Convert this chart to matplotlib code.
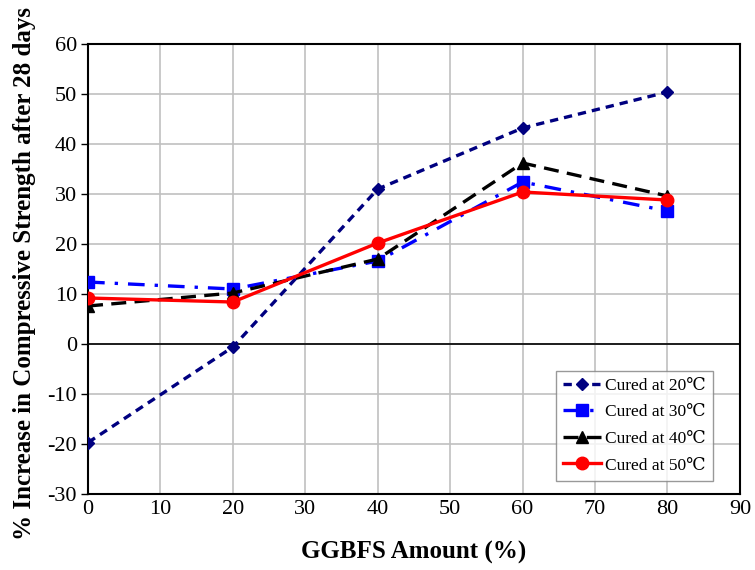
import matplotlib
matplotlib.use("Agg")
import matplotlib.pyplot as plt

plt.rcParams["font.family"] = ["Liberation Serif", "DejaVu Serif"]
plt.rcParams["axes.unicode_minus"] = False

# ---------- DATA ----------
ggbfs = [0, 20, 40, 60, 80]
cured_20 = [-19.7, -0.6, 31.0, 43.2, 50.4]
cured_30 = [12.4, 11.0, 16.6, 32.4, 26.6]
cured_40 = [7.6, 10.2, 17.0, 36.2, 29.6]
cured_50 = [9.2, 8.4, 20.2, 30.4, 28.8]

labels = ["Cured at 20\u2103", "Cured at 30\u2103", "Cured at 40\u2103", "Cured at 50\u2103"]
x_ticks = list(range(0, 91, 10))
y_ticks = list(range(-30, 61, 10))

fig = plt.figure(figsize=(7.55, 5.7), dpi=100)
ax = fig.add_axes([0.1166, 0.1333, 0.8634, 0.7895])

ax.plot(ggbfs, cured_20, color="#000080", linestyle=(0, (2.5, 1.8)), linewidth=2.4,
        marker="D", markersize=6, label=labels[0], zorder=3)
ax.plot(ggbfs, cured_30, color="#0000FF", linestyle=(0, (5, 3, 1, 3)), linewidth=2.4,
        marker="s", markersize=9, label=labels[1], zorder=3)
ax.plot(ggbfs, cured_40, color="black", linestyle=(0, (4.5, 2.5)), linewidth=2.4,
        marker="^", markersize=9, label=labels[2], zorder=3)
ax.plot(ggbfs, cured_50, color="#FF0000", linestyle="-", linewidth=2.4,
        marker="o", markersize=9, label=labels[3], zorder=4)

ax.axhline(0, color="black", linewidth=1.2, zorder=2)

ax.set_xlim(0, 90)
ax.set_ylim(-30, 60)
ax.set_xticks(x_ticks)
ax.set_yticks(y_ticks)
ax.grid(True, color="#c0c0c0", linewidth=1.2, zorder=0)
ax.set_axisbelow(True)

for s in ax.spines.values():
    s.set_linewidth(1.5)
    s.set_color("black")

ax.tick_params(axis="y", direction="out", length=5, width=1, labelsize=16, pad=3)
ax.tick_params(axis="x", direction="out", length=0, labelsize=16, pad=4)

ax.set_xlabel("GGBFS Amount (%)", fontsize=18, fontweight="bold", labelpad=16)
ax.set_ylabel("% Increase in Compressive Strength after 28 days", fontsize=18,
              fontweight="bold", labelpad=8, y=0.49)

leg = ax.legend(loc="lower right", bbox_to_anchor=(0.958, 0.03), fontsize=12.5,
                frameon=True, fancybox=False, edgecolor="#808080",
                handlelength=2.2, borderpad=0.4, labelspacing=0.6, handletextpad=0.2,
                borderaxespad=0)
leg.get_frame().set_linewidth(1)

fig.savefig("out.png", dpi=100)
